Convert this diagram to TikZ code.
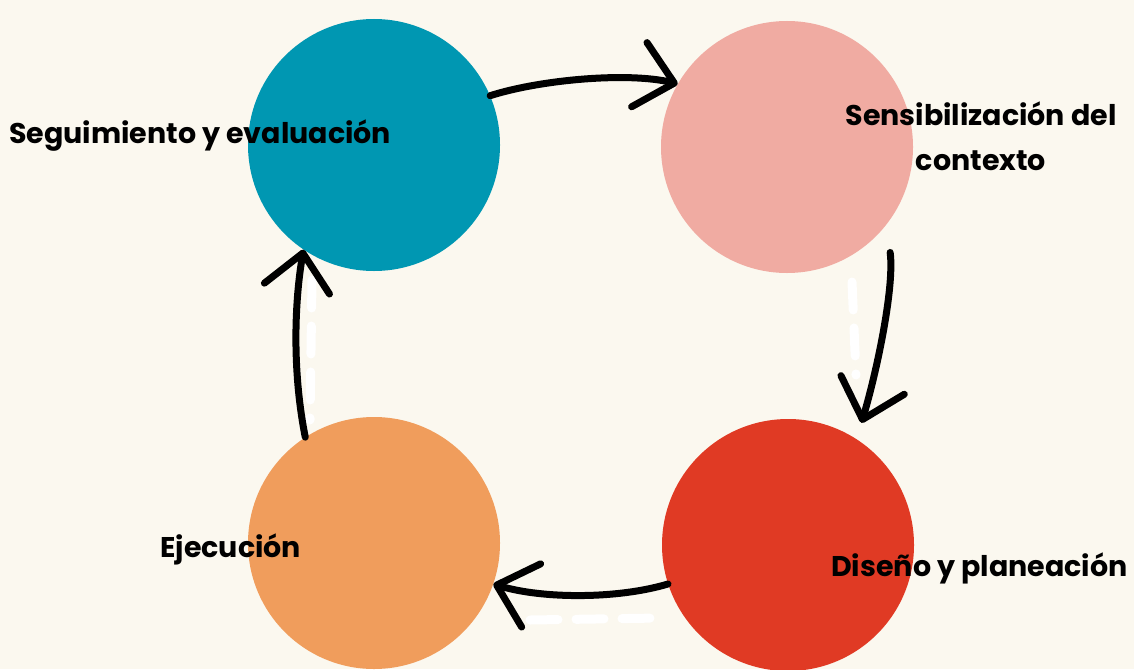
\documentclass[tikz,border=0pt]{standalone}
\usepackage{fontspec}
\setmainfont{Poppins}
\usepackage{tikz}
\usetikzlibrary{arrows.meta,positioning,calc}
\definecolor{cream}{HTML}{FBF8EF}
\definecolor{cteal}{HTML}{0097B2}
\definecolor{cpink}{HTML}{F0ABA2}
\definecolor{cred}{HTML}{E03A24}
\definecolor{corange}{HTML}{F09D5C}
\tikzset{
  blob/.style={circle,minimum size=252pt,inner sep=0pt},
  lbl/.style={font=\fontsize{28.5}{45}\selectfont\bfseries,inner sep=0pt},
  cyc/.style={line width=7pt,line cap=round,-{Straight Barb[length=36pt,width=66pt,round]}},
  ghost/.style={white,line width=9pt,line cap=round,dash pattern=on 28pt off 18pt}
}
\begin{document}
\begin{tikzpicture}[x=1pt,y=-1pt]
  \fill[cream] (0,0) rectangle (1134,669);
  \useasboundingbox (0,0) rectangle (1134,669);
  % faint marks left behind the arrows
  \draw[ghost] (852,282) -- (856,375);
  \draw[ghost] (312,280) -- (310,420);
  \draw[ghost] (530,620) -- (660,618);
  \node[blob,fill=cteal] (seg) at (374,145) {};
  \node[blob,fill=cpink] (sens) at (787,147) {};
  \node[blob,fill=cred] (dis) at (788,545) {};
  \node[blob,fill=corange] (eje) at (374,543) {};
  \node[lbl,anchor=west] (tseg) at (9,136) {Seguimiento y evaluación};
  \node[lbl,align=center] (tsens) at (981,136) {Sensibilización del\\contexto};
  \node[lbl,anchor=west] (teje) at (160,549) {Ejecución};
  \node[lbl,anchor=west] (tdis) at (831,568) {Diseño y planeación};
  \draw[cyc] (seg.23) .. controls +(50,-16) and +(-50,-12) .. (sens.150);
  \draw[cyc,shorten <=28pt,shorten >=17pt] (sens.-38) .. controls +(8,60) and +(22,-75) .. (dis.57);
  \draw[cyc] (dis.198) .. controls +(-50,15) and +(50,15) .. (eje.-19);
  \draw[cyc] (eje.123) .. controls +(-12,-60) and +(-10,60) .. (seg.236);
\end{tikzpicture}
\end{document}
